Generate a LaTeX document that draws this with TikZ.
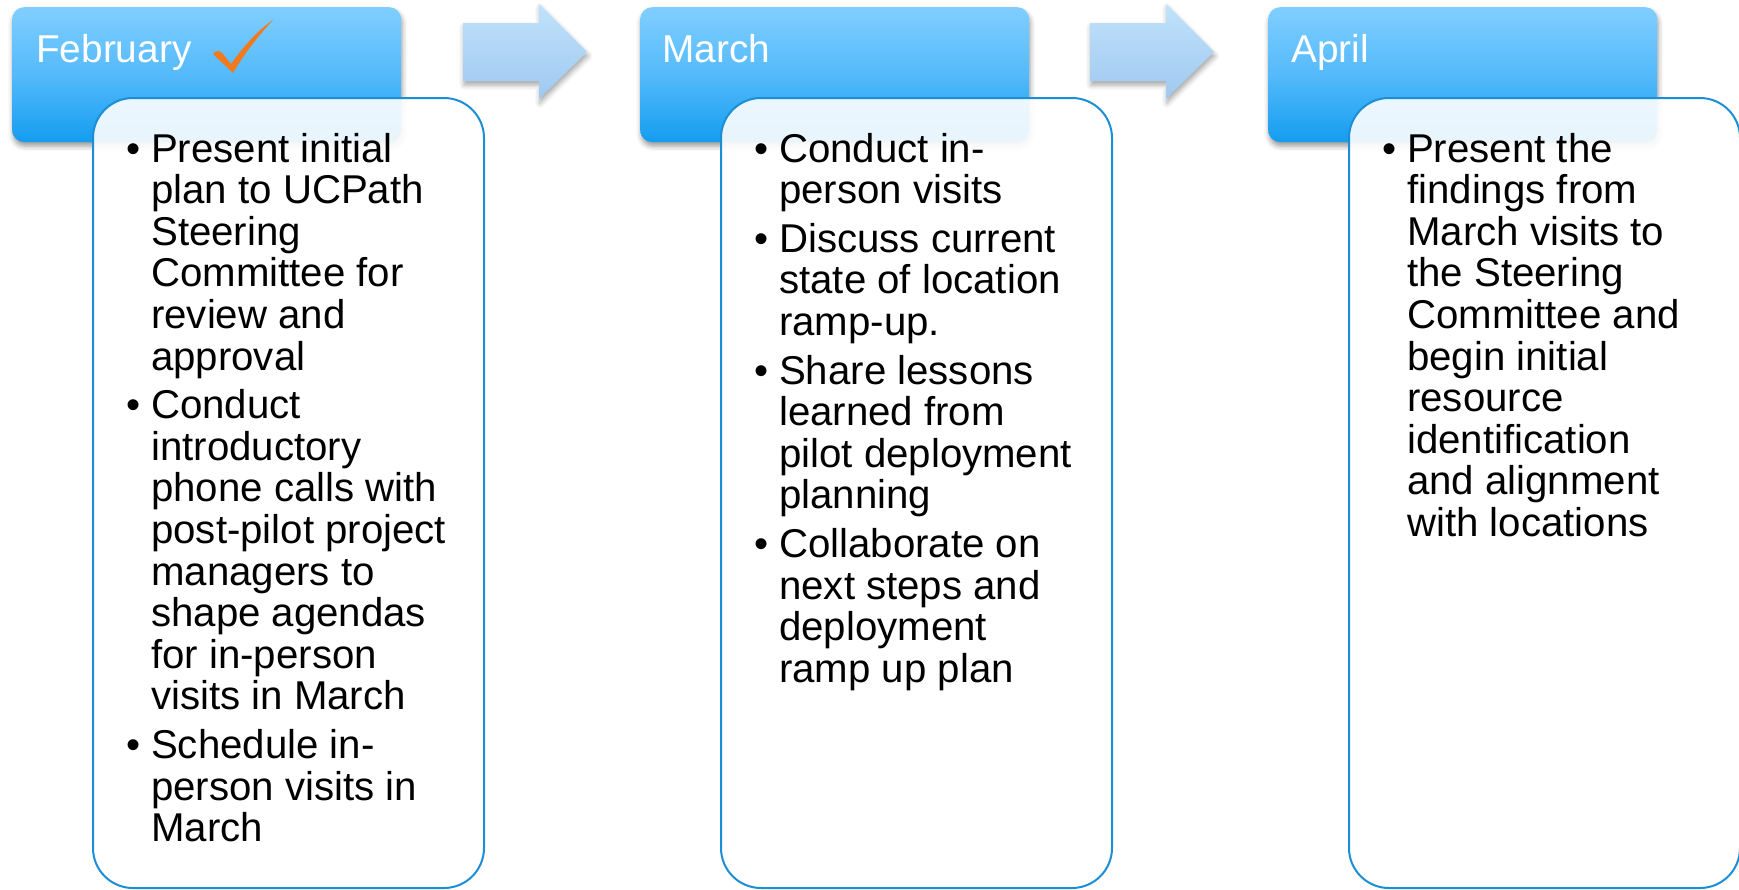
\documentclass[tikz,border=0pt]{standalone}
\usepackage{fontspec}
\setmainfont{Liberation Sans}
\usetikzlibrary{shadows.blur}

\definecolor{hdrtop}{RGB}{128,206,255}
\definecolor{hdrmid}{RGB}{84,186,250}
\definecolor{hdrbot}{RGB}{20,156,240}
\definecolor{frame}{RGB}{28,142,214}
\definecolor{arrtop}{RGB}{192,226,251}
\definecolor{arrbot}{RGB}{160,200,240}
\definecolor{tick}{RGB}{242,122,30}

\pgfdeclareverticalshading{monthshade}{100bp}{color(0bp)=(hdrbot); color(25bp)=(hdrbot); color(50bp)=(hdrmid); color(75bp)=(hdrtop); color(100bp)=(hdrtop)}
\pgfdeclareverticalshading{arrowshade}{100bp}{color(0bp)=(arrbot); color(25bp)=(arrbot); color(75bp)=(arrtop); color(100bp)=(arrtop)}

% one bulleted paragraph with a hanging indent
\newcommand\bitem[1]{\par\hangindent=25pt\hangafter=1\noindent\makebox[25pt][l]{\char"2022}#1}
% the body of a month card
\newcommand\cardbody[1]{\begin{minipage}[t]{420pt}\fontsize{40.2}{41.6}\selectfont\raggedright\parskip=7pt #1\end{minipage}}

\begin{document}
\begin{tikzpicture}[x=1pt,y=-1pt,
  month/.style={rounded corners=12pt, shading=monthshade, inner sep=0pt,
    minimum width=389pt, minimum height=135pt, anchor=north west,
    blur shadow={shadow xshift=1pt, shadow yshift=-4pt, shadow blur radius=5pt, shadow opacity=40}},
  monthlabel/.style={anchor=base west, inner sep=0pt, text=white, font=\fontsize{38.8}{40}\selectfont},
  card/.style={draw=frame, line width=2pt, fill=white, fill opacity=0.9, rounded corners=40pt,
    inner sep=0pt, minimum width=391pt, minimum height=790pt, anchor=north west},
  cardtext/.style={anchor=base west, inner sep=0pt, text=black},
  flow/.style={shading=arrowshade,
    blur shadow={shadow xshift=1pt, shadow yshift=-4pt, shadow blur radius=5pt, shadow opacity=35}},
]
\useasboundingbox (0,0) rectangle (1739,889);

% month headers
\node[month] (feb) at (12,7) {};
\node[month] (mar) at (640,7) {};
\node[month] (apr) at (1268,7) {};

\node[monthlabel] (feblabel) at (36,62) {February};
\node[monthlabel] (marlabel) at (662,62) {March};
\node[monthlabel] (aprlabel) at (1291,62) {April};

% completed mark next to February
\fill[tick] (213,54) .. controls (216,50) and (220,50) .. (223,54)
  -- (231,64) .. controls (244,46) and (257,31) .. (273,20)
  .. controls (259,35) and (244,54) .. (233,73)
  .. controls (226,66) and (219,60) .. (213,54) -- cycle;

% arrows between months
\path[flow] (463,23) -- (539,23) -- (539,4) -- (587,52) -- (539,99) -- (539,81) -- (463,81) -- cycle;
\path[flow] (1090,23) -- (1166,23) -- (1166,4) -- (1214,52) -- (1166,99) -- (1166,81) -- (1090,81) -- cycle;

% task cards
\node[card] (febcard) at (92,97) {};
\node[card] (marcard) at (720,97) {};
\node[card] (aprcard) at (1348,97) {};

\node[cardtext] (febtext) at (126,162) {\cardbody{%
\bitem{Present initial\newline plan to UCPath\newline Steering\newline Committee for\newline review and\newline approval}%
\bitem{Conduct\newline introductory\newline phone calls with\newline post-pilot project\newline managers to\newline shape agendas\newline for in-person\newline visits in March}%
\bitem{Schedule in-\newline person visits in\newline March}}};

\node[cardtext] (martext) at (754,162) {\cardbody{%
\bitem{Conduct in-\newline person visits}%
\bitem{Discuss current\newline state of location\newline ramp-up.}%
\bitem{Share lessons\newline learned from\newline pilot deployment\newline planning}%
\bitem{Collaborate on\newline next steps and\newline deployment\newline ramp up plan}}};

\node[cardtext] (aprtext) at (1382,162) {\cardbody{%
\bitem{Present the\newline findings from\newline March visits to\newline the Steering\newline Committee and\newline begin initial\newline resource\newline identification\newline and alignment\newline with locations}}};
\end{tikzpicture}
\end{document}
